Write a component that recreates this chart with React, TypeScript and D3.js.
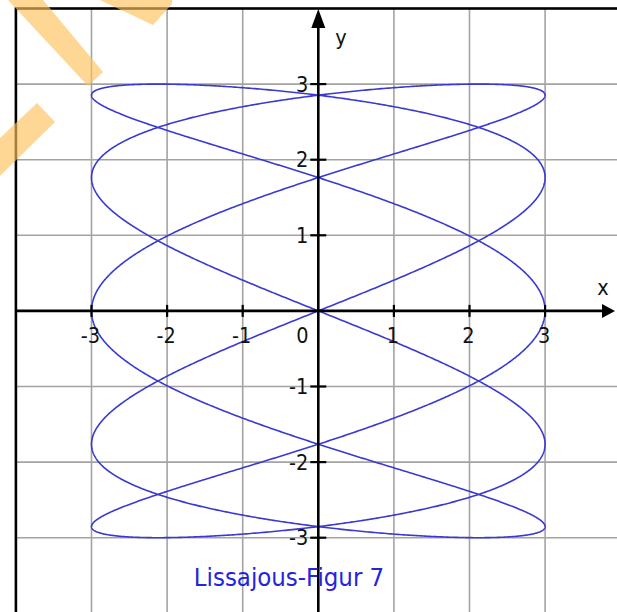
import React, { useEffect, useRef } from "react";
import * as d3 from "d3";

// Canvas
const WIDTH = 617;
const HEIGHT = 612;

// Coordinate window of the plane
const xDomain = [-4, 4];
const yDomain = [-4, 4];

// Tick values and labels
const xTicks = [-3, -2, -1, 1, 2, 3];
const yTicks = [-3, -2, -1, 1, 2, 3];
const gridX = [-3, -2, -1, 1, 2, 3];
const gridY = [-3, -2, -1, 1, 2, 3];

// Lissajous parameters: x = ax * sin(fx * t), y = ay * sin(fy * t)
const amplitudeX = 3;
const amplitudeY = 3;
const freqX = 5;
const freqY = 2;
const samples = 3000;

const title = "Lissajous-Figur 7";

// Light orange decorative bands in the upper-left corner
const bands: [number, number][][] = [
  [[8, 0], [43, 0], [103, 72], [88, 86]],
  [[100, 0], [172, 0], [172, 4], [153, 25]],
  [[37, 103], [55, 122], [0, 176], [0, 138]],
];

const FONT = "Tahoma, 'DejaVu Sans Condensed', 'DejaVu Sans', sans-serif";

export default function App() {
  const ref = useRef<SVGSVGElement | null>(null);

  useEffect(() => {
    const svg = d3.select(ref.current);
    svg.selectAll("*").remove();

    const x = d3.scaleLinear().domain(xDomain).range([15.9, 620.7]);
    const y = d3.scaleLinear().domain(yDomain).range([613.3, 8.5]);

    const x0 = x(0);
    const y0 = y(0);

    svg.append("rect").attr("width", WIDTH).attr("height", HEIGHT).attr("fill", "#fff");

    // grid
    const grid = svg.append("g").attr("stroke", "#a3a3a3").attr("stroke-width", 1.6);
    gridX.forEach((v) => {
      grid.append("line").attr("x1", x(v)).attr("x2", x(v)).attr("y1", y(4)).attr("y2", y(-4));
    });
    gridY.forEach((v) => {
      grid.append("line").attr("y1", y(v)).attr("y2", y(v)).attr("x1", x(-4)).attr("x2", x(4));
    });

    // frame
    svg
      .append("rect")
      .attr("x", x(-4))
      .attr("y", y(4))
      .attr("width", x(4) - x(-4))
      .attr("height", y(-4) - y(4))
      .attr("fill", "none")
      .attr("stroke", "#000")
      .attr("stroke-width", 2.6);

    // curve
    const ts = d3.range(samples + 1).map((i) => (i / samples) * 2 * Math.PI);
    const pts: [number, number][] = ts.map((t) => [
      amplitudeX * Math.sin(freqX * t),
      amplitudeY * Math.sin(freqY * t),
    ]);
    const line = d3
      .line<[number, number]>()
      .x((d) => x(d[0]))
      .y((d) => y(d[1]));
    svg
      .append("path")
      .attr("d", line(pts))
      .attr("fill", "none")
      .attr("stroke", "#3a3ad2")
      .attr("stroke-width", 1.6);

    // axes
    const axes = svg.append("g").attr("stroke", "#000").attr("stroke-width", 2.6);
    axes.append("line").attr("x1", x(-4)).attr("x2", 604).attr("y1", y0).attr("y2", y0);
    axes.append("line").attr("x1", x0).attr("x2", x0).attr("y1", y(-4)).attr("y2", 26);
    svg
      .append("path")
      .attr("d", `M${615},${y0} L${602},${y0 - 7} L${602},${y0 + 7} Z`)
      .attr("fill", "#000");
    svg
      .append("path")
      .attr("d", `M${x0},${9} L${x0 - 7},${28} L${x0 + 7},${28} Z`)
      .attr("fill", "#000");

    // ticks
    xTicks.forEach((v) => {
      axes.append("line").attr("x1", x(v)).attr("x2", x(v)).attr("y1", y0 - 6).attr("y2", y0 + 6).attr("stroke-width", 2.2);
    });
    yTicks.forEach((v) => {
      axes.append("line").attr("y1", y(v)).attr("y2", y(v)).attr("x1", x0 - 8).attr("x2", x0 + 8).attr("stroke-width", 2.2);
    });

    const labels = svg.append("g").attr("font-family", FONT).attr("font-size", 21.5).attr("fill", "#111");
    xTicks.forEach((v) => {
      labels.append("text").attr("x", x(v) - 1).attr("y", y0 + 32).attr("text-anchor", "middle").text(String(v));
    });
    labels.append("text").attr("x", x0 - 16).attr("y", y0 + 32).attr("text-anchor", "middle").text("0");
    yTicks.forEach((v) => {
      labels.append("text").attr("x", x0 - 10).attr("y", y(v) + 7.5).attr("text-anchor", "end").text(String(v));
    });
    labels.append("text").attr("x", 603).attr("y", y0 - 16).attr("text-anchor", "middle").text("x");
    labels.append("text").attr("x", 341).attr("y", 45).attr("text-anchor", "middle").text("y");

    // title
    svg
      .append("text")
      .attr("x", 289)
      .attr("y", 586)
      .attr("text-anchor", "middle")
      .attr("font-family", FONT)
      .attr("font-size", 25.5)
      .attr("fill", "#2323e0")
      .text(title);

    // decorative bands
    svg
      .append("g")
      .selectAll("path")
      .data(bands)
      .join("path")
      .attr("d", (d) => "M" + d.map((p) => p.join(",")).join("L") + "Z")
      .attr("fill", "#ffc25a")
      .attr("fill-opacity", 0.65);
  }, []);

  return (
    <svg
      ref={ref}
      width={WIDTH}
      height={HEIGHT}
      style={{ position: "absolute", left: 0, top: 0, display: "block" }}
    />
  );
}
